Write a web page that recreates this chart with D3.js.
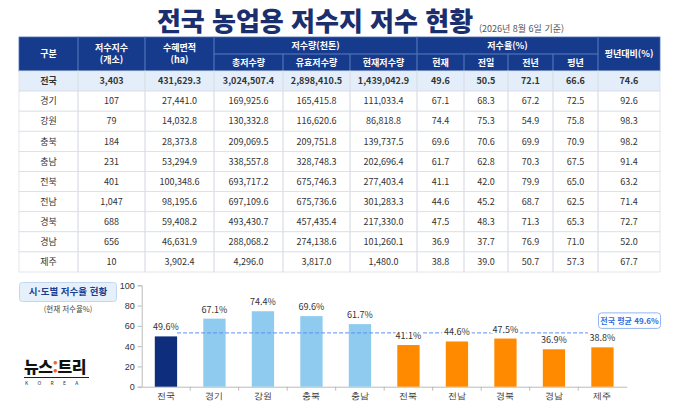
<!DOCTYPE html>
<html lang="ko">
<head>
<meta charset="UTF-8">
<title>전국 농업용 저수지 저수 현황</title>
<script src="https://d3js.org/d3.v7.min.js"></script>
<style>
    body { margin: 0; background: #fff; }
    svg { display: block; font-family: "Noto Sans CJK KR", "Noto Sans", sans-serif; }
    .hdr { fill: #fff; font-size: 9px; font-weight: 600; }
    .cell { fill: #333; font-size: 9px; }
    .axis text { font-size: 9px; fill: #333; }
    .axis path, .axis line { stroke: #bbb; }
</style>
</head>
<body>
<svg id="chart" width="680" height="408"></svg>
<script>
// ---- data ----
var regions = ["전국", "경기", "강원", "충북", "충남", "전북", "전남", "경북", "경남", "제주"];
var reservoirCount = [3403, 107, 79, 184, 231, 401, 1047, 688, 656, 10];
var irrigatedArea = [431629.3, 27441.0, 14032.8, 28373.8, 53294.9, 100348.6, 98195.6, 59408.2, 46631.9, 3902.4];
var totalStorage = [3024507.4, 169925.6, 130332.8, 209069.5, 338557.8, 693717.2, 697109.6, 493430.7, 288068.2, 4296.0];
var effectiveStorage = [2898410.5, 165415.8, 116620.6, 209751.8, 328748.3, 675746.3, 675736.6, 457435.4, 274138.6, 3817.0];
var currentStorage = [1439042.9, 111033.4, 86818.8, 139737.5, 202696.4, 277403.4, 301283.3, 217330.0, 101260.1, 1480.0];
var rateNow = [49.6, 67.1, 74.4, 69.6, 61.7, 41.1, 44.6, 47.5, 36.9, 38.8];
var ratePrevDay = [50.5, 68.3, 75.3, 70.6, 62.8, 42.0, 45.2, 48.3, 37.7, 39.0];
var ratePrevYear = [72.1, 67.2, 54.9, 69.9, 70.3, 79.9, 68.7, 71.3, 76.9, 50.7];
var rateNormal = [66.6, 72.5, 75.8, 70.9, 67.5, 65.0, 62.5, 65.3, 71.0, 57.3];
var vsNormal = [74.6, 92.6, 98.3, 98.2, 91.4, 63.2, 71.4, 72.7, 52.0, 67.7];
var yTicks = [0, 20, 40, 60, 80, 100];
var nationalAvg = rateNow[0];

var svg = d3.select("#chart");
var navy = "#173b8c";

// ---- title ----
svg.append("text")
    .attr("x", 315).attr("y", 31)
    .attr("text-anchor", "middle")
    .attr("font-size", 26).attr("font-weight", 800)
    .attr("fill", "#1b2f6e")
    .text("전국 농업용 저수지 저수 현황");
svg.append("text")
    .attr("x", 479).attr("y", 32)
    .attr("font-size", 9).attr("fill", "#555")
    .text("(2026년 8월 6일 기준)");

// ---- table ----
var colX = [19, 78, 145, 214, 283, 350, 417, 464, 508, 553, 598, 660];
var hTop = 37, hMid = 54, hBot = 71, rowH = 20.1;

var fmtInt = d3.format(",");
var fmt1 = d3.format(",.1f");
var columns = [
    function(i) { return regions[i]; },
    function(i) { return fmtInt(reservoirCount[i]); },
    function(i) { return fmt1(irrigatedArea[i]); },
    function(i) { return fmt1(totalStorage[i]); },
    function(i) { return fmt1(effectiveStorage[i]); },
    function(i) { return fmt1(currentStorage[i]); },
    function(i) { return rateNow[i].toFixed(1); },
    function(i) { return ratePrevDay[i].toFixed(1); },
    function(i) { return ratePrevYear[i].toFixed(1); },
    function(i) { return rateNormal[i].toFixed(1); },
    function(i) { return vsNormal[i].toFixed(1); }
];

var table = svg.append("g");

// header background
table.append("rect")
    .attr("x", colX[0]).attr("y", hTop)
    .attr("width", colX[11] - colX[0]).attr("height", hBot - hTop)
    .attr("fill", navy);

// header cells: [col start, col end, top, bottom, lines]
var headerCells = [
    [0, 1, hTop, hBot, ["구분"]],
    [1, 2, hTop, hBot, ["저수지수", "(개소)"]],
    [2, 3, hTop, hBot, ["수혜면적", "(ha)"]],
    [3, 6, hTop, hMid, ["저수량(천톤)"]],
    [3, 4, hMid, hBot, ["총저수량"]],
    [4, 5, hMid, hBot, ["유효저수량"]],
    [5, 6, hMid, hBot, ["현재저수량"]],
    [6, 10, hTop, hMid, ["저수율(%)"]],
    [6, 7, hMid, hBot, ["현재"]],
    [7, 8, hMid, hBot, ["전일"]],
    [8, 9, hMid, hBot, ["전년"]],
    [9, 10, hMid, hBot, ["평년"]],
    [10, 11, hTop, hBot, ["평년대비(%)"]]
];

headerCells.forEach(function(c) {
    var x0 = colX[c[0]], x1 = colX[c[1]];
    table.append("rect")
        .attr("x", x0).attr("y", c[2])
        .attr("width", x1 - x0).attr("height", c[3] - c[2])
        .attr("fill", "none").attr("stroke", "#4d6fb3").attr("stroke-width", 0.8);
    var cy = (c[2] + c[3]) / 2;
    var n = c[4].length;
    c[4].forEach(function(line, k) {
        table.append("text")
            .attr("class", "hdr")
            .attr("x", (x0 + x1) / 2)
            .attr("y", cy + (k - (n - 1) / 2) * 12)
            .attr("dy", "0.35em")
            .attr("text-anchor", "middle")
            .text(line);
    });
});

// body rows
regions.forEach(function(r, i) {
    var y0 = hBot + i * rowH;
    table.append("rect")
        .attr("x", colX[0]).attr("y", y0)
        .attr("width", colX[11] - colX[0]).attr("height", rowH)
        .attr("fill", i === 0 ? "#e4eefa" : "#fff");
    columns.forEach(function(fn, j) {
        table.append("rect")
            .attr("x", colX[j]).attr("y", y0)
            .attr("width", colX[j + 1] - colX[j]).attr("height", rowH)
            .attr("fill", "none").attr("stroke", "#d9dee6").attr("stroke-width", 0.8);
        table.append("text")
            .attr("class", "cell")
            .attr("x", (colX[j] + colX[j + 1]) / 2)
            .attr("y", y0 + rowH / 2)
            .attr("dy", "0.35em")
            .attr("text-anchor", "middle")
            .attr("font-weight", i === 0 ? 700 : 400)
            .attr("fill", i === 0 ? "#111" : "#333")
            .text(fn(i));
    });
});

// ---- chart side panel ----
svg.append("rect")
    .attr("x", 19.5).attr("y", 282.5)
    .attr("width", 97).attr("height", 19)
    .attr("rx", 3)
    .attr("fill", "#e6f0fb").attr("stroke", "#c3d6ef");
svg.append("text")
    .attr("x", 68).attr("y", 292).attr("dy", "0.35em")
    .attr("text-anchor", "middle")
    .attr("font-size", 9.5).attr("font-weight", 700).attr("fill", "#1b3f8f")
    .text("시·도별 저수율 현황");
svg.append("text")
    .attr("x", 68).attr("y", 309).attr("dy", "0.35em")
    .attr("text-anchor", "middle")
    .attr("font-size", 7.5).attr("fill", "#444")
    .text("(현재 저수율%)");

// logo
var logo = svg.append("text")
    .attr("x", 24).attr("y", 373)
    .attr("font-size", 16).attr("font-weight", 900).attr("fill", "#111")
    .attr("letter-spacing", -0.5);
logo.append("tspan").text("뉴스");
logo.append("tspan").attr("fill", "#f26a21").text(":");
logo.append("tspan").text("트리");
svg.append("line")
    .attr("x1", 24).attr("x2", 89).attr("y1", 377.5).attr("y2", 377.5)
    .attr("stroke", "#222").attr("stroke-width", 1);
svg.append("text")
    .attr("x", 25).attr("y", 384.5)
    .attr("font-size", 5).attr("fill", "#333")
    .attr("letter-spacing", 9.3)
    .text("KOREA");

// ---- bar chart ----
var x = d3.scaleBand()
    .domain(regions)
    .range([141.7, 626.7])
    .paddingInner(0.54)
    .paddingOuter(0.27);

var y = d3.scaleLinear()
    .domain([0, 100])
    .range([386.7, 285.3]);

function barColor(i) {
    if (i === 0) return "#0f2d7d";
    return rateNow[i] >= nationalAvg ? "#8ecbef" : "#ff8a00";
}

var yAxis = svg.append("g")
    .attr("class", "axis")
    .attr("transform", "translate(141.7,0)")
    .call(d3.axisLeft(y).tickValues(yTicks).tickSize(4).tickPadding(3));

var xAxis = svg.append("g")
    .attr("class", "axis")
    .attr("transform", "translate(0,386.7)")
    .call(d3.axisBottom(x).tickSize(0).tickPadding(6));
xAxis.selectAll("text").attr("font-size", 9.5).attr("fill", "#222");
xAxis.select(".domain").attr("stroke", "#999");

// band boundary ticks
svg.append("g")
    .selectAll("line")
    .data(regions.slice(1))
    .join("line")
    .attr("x1", function(d) { return x(d) - x.step() * x.paddingInner() / 2; })
    .attr("x2", function(d) { return x(d) - x.step() * x.paddingInner() / 2; })
    .attr("y1", 386.7).attr("y2", 390.7)
    .attr("stroke", "#bbb");

svg.append("g")
    .selectAll("rect")
    .data(regions)
    .join("rect")
    .attr("x", function(d) { return x(d); })
    .attr("y", function(d, i) { return y(rateNow[i]); })
    .attr("width", x.bandwidth())
    .attr("height", function(d, i) { return y(0) - y(rateNow[i]); })
    .attr("fill", function(d, i) { return barColor(i); });

// national average line
var avgY = y(nationalAvg) - 3.5;
svg.append("line")
    .attr("x1", x(regions[0]) + x.bandwidth())
    .attr("x2", 588)
    .attr("y1", avgY).attr("y2", avgY)
    .attr("stroke", "#5b8ef0").attr("stroke-width", 1)
    .attr("stroke-dasharray", "4,2");

svg.append("rect")
    .attr("x", 598.5).attr("y", avgY - 20)
    .attr("width", 62).attr("height", 15.5)
    .attr("rx", 3)
    .attr("fill", "#fff").attr("stroke", "#94b6f2");
svg.append("text")
    .attr("x", 629.5).attr("y", avgY - 12.2).attr("dy", "0.35em")
    .attr("text-anchor", "middle")
    .attr("font-size", 8).attr("font-weight", 700).attr("fill", "#2f6de0")
    .text("전국 평균 " + nationalAvg.toFixed(1) + "%");

// value labels (white halo masks the dashed line)
svg.append("g")
    .selectAll("text")
    .data(regions)
    .join("text")
    .attr("x", function(d) { return x(d) + x.bandwidth() / 2; })
    .attr("y", function(d, i) { return y(rateNow[i]) - 6; })
    .attr("text-anchor", "middle")
    .attr("font-size", 9).attr("fill", "#333")
    .attr("stroke", "#fff").attr("stroke-width", 4)
    .attr("paint-order", "stroke")
    .text(function(d, i) { return rateNow[i].toFixed(1) + "%"; });
</script>
</body>
</html>
